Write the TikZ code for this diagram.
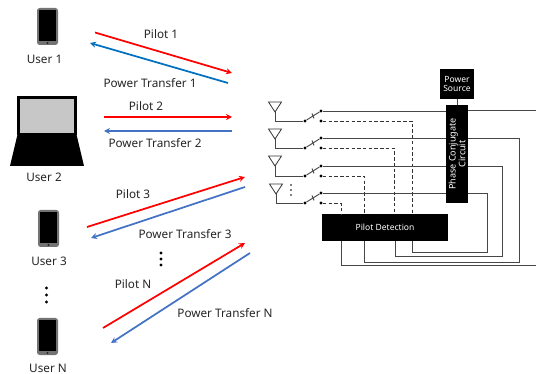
\documentclass[tikz,border=0pt]{standalone}
\usepackage{fontspec}
\setmainfont{Noto Sans}
\usetikzlibrary{arrows.meta}
\definecolor{lnk}{RGB}{68,114,196}
\definecolor{lnkb}{RGB}{0,112,192}
\tikzset{
  x=0.75pt,y=-0.75pt,
  lab/.style={font=\fontsize{8.8}{10.5}\selectfont,inner sep=0pt,text=black!85},
  blackbox/.style={fill=black,draw=none,text=white,inner sep=0pt,align=center,font=\fontsize{6.4}{7.6}\selectfont},
  red arrow/.style={draw={rgb,255:red,255;green,0;blue,0},line width=1.3pt,-{Stealth[length=4.5pt,width=4.5pt]}},
  blue arrow/.style={draw=lnk,line width=1.3pt,-{Stealth[length=4.5pt,width=4.5pt]}},
  wire/.style={draw=black!72,line width=0.7pt},
  dwire/.style={draw=black!80,line width=0.7pt,dash pattern=on 2.6pt off 1.7pt},
  ant/.style={draw=black!80,line width=0.6pt,fill=white},
  sw/.style={circle,fill=black,inner sep=0pt,minimum size=2.4pt},
}
\newcommand{\phone}[2]{%
  \fill[black!55,rounded corners=2pt] (#1,#2) rectangle ++(21,37);
  \fill[black] (#1+1.7,#2+2) rectangle ++(17.6,31);
  \fill[black!85] (#1+10.5,#2+35) circle (0.8pt);
}
\begin{document}
\begin{tikzpicture}
\useasboundingbox (0,0) rectangle (536,374);
\fill[white] (0,0) rectangle (536,374);

% users
\phone{37}{8}
\phone{38}{210}
\phone{37}{318}
\fill[black] (17,96) rectangle (77,135);
\fill[black!22] (20,99) rectangle (74,133.5);
\fill[black] (17.5,134.5) -- (76.5,134.5) -- (84,166) -- (10,166) -- cycle;

\node[lab] (u1) at (44.5,59) {User 1};
\node[lab] (u2) at (44,177) {User 2};
\node[lab] (u3) at (49,261) {User 3};
\node[lab] (un) at (48,368) {User N};
\foreach \yy in {288,295,302} \fill[black] (46.5,\yy) circle (1.2pt);
\foreach \yy in {253,259,265} \fill[black] (161,\yy) circle (1.2pt);

% links
\coordinate (r1a) at (95,32.5); \coordinate (r1b) at (232,73);
\coordinate (b1a) at (228,83);  \coordinate (b1b) at (90,43);
\coordinate (r2a) at (104,117); \coordinate (r2b) at (232,117);
\coordinate (b2a) at (232,131); \coordinate (b2b) at (104,131);
\coordinate (r3a) at (87,227);  \coordinate (r3b) at (245,177);
\coordinate (b3a) at (245,187); \coordinate (b3b) at (91,238);
\coordinate (r4a) at (103,328); \coordinate (r4b) at (245,243);
\coordinate (b4a) at (250,253); \coordinate (b4b) at (111,343);
\draw[red arrow] (r1a) -- (r1b);
\draw[blue arrow,draw=lnkb] (b1a) -- (b1b);
\draw[red arrow] (r2a) -- (r2b);
\draw[blue arrow] (b2a) -- (b2b);
\draw[red arrow] (r3a) -- (r3b);
\draw[blue arrow] (b3a) -- (b3b);
\draw[red arrow] (r4a) -- (r4b);
\draw[blue arrow] (b4a) -- (b4b);

\node[lab] (p1) at (161,34) {Pilot 1};
\node[lab] (t1) at (150,83) {Power Transfer 1};
\node[lab] (p2) at (146,106) {Pilot 2};
\node[lab] (t2) at (155,143) {Power Transfer 2};
\node[lab] (p3) at (133,194) {Pilot 3};
\node[lab] (t3) at (185,234) {Power Transfer 3};
\node[lab] (pn) at (133,284) {Pilot N};
\node[lab] (tn) at (225,313) {Power Transfer N};

% boxes
\node[blackbox,minimum width=25.5pt,minimum height=22.5pt] (ps) at (457,84) {Power\\[-0.5pt]Source};
\node[blackbox,minimum width=73.5pt,minimum height=16.5pt,rotate=90,font=\fontsize{6.8}{7.8}\selectfont] (pc) at (457,154) {Phase Conjugate\\[-0.5pt]Circuit};
\node[blackbox,minimum width=94.5pt,minimum height=20.25pt] (pd) at (385,227.5) {Pilot Detection};
\draw[wire] (ps.south) -- (pc.east);

% antennas and switches
\foreach \n/\ax/\ay/\b/\u/\d in {1/275/102/121/111/412,2/275/129/148/138/394,3/275/156/176/166/364,4/276/184/203/193/341}{
  \coordinate (a\n) at (\ax,\ay+10);
  \coordinate (g\n) at (\ax,\b);
  \node[sw] (l\n) at (305,\b) {};
  \node[sw] (h\n) at (321,\u) {};
  \node[sw] (m\n) at (321,\b) {};
  \draw[wire] (a\n) -- (g\n) -- (l\n);
  \draw[ant] (\ax-6.5,\ay) -- (\ax+6.5,\ay) -- (a\n) -- cycle;
  \draw[wire,line width=0.7pt] (l\n) -- (h\n);
  \draw[wire,line width=0.7pt] (312,\b-7.5) -- (314,\b-2.5);
  \coordinate (dt\n) at (\d,\b);
  \coordinate (db\n) at (\d,214);
  \draw[dwire] (m\n) -- (dt\n) -- (db\n);
}
\foreach \yy in {185,190,195} \fill[black] (291,\yy) circle (0.7pt);

% solid rows to the phase conjugate circuit
\foreach \n/\u in {1/111,2/138,3/166,4/193}{
  \coordinate (pcin\n) at (446,\u);
  \draw[wire] (h\n) -- (pcin\n);
}

% outputs around to pilot detection
\coordinate (e1a) at (468,110); \coordinate (e1b) at (536,110);
\draw[wire] (e1a) -- (e1b);
\coordinate (e1c) at (536,265); \coordinate (e1d) at (341,265); \coordinate (e1e) at (341,241);
\draw[wire] (e1c) -- (e1d) -- (e1e);
\coordinate (e2a) at (468,138); \coordinate (e2b) at (519,138); \coordinate (e2c) at (519,262); \coordinate (e2d) at (364,262); \coordinate (e2e) at (364,241);
\draw[wire] (e2a) -- (e2b) -- (e2c) -- (e2d) -- (e2e);
\coordinate (e3a) at (468,166); \coordinate (e3b) at (502,166); \coordinate (e3c) at (502,256); \coordinate (e3d) at (395,256); \coordinate (e3e) at (395,241);
\draw[wire] (e3a) -- (e3b) -- (e3c) -- (e3d) -- (e3e);
\coordinate (e4a) at (468,193); \coordinate (e4b) at (487,193); \coordinate (e4c) at (487,252); \coordinate (e4d) at (412,252); \coordinate (e4e) at (412,241);
\draw[wire] (e4a) -- (e4b) -- (e4c) -- (e4d) -- (e4e);
\end{tikzpicture}
\end{document}
